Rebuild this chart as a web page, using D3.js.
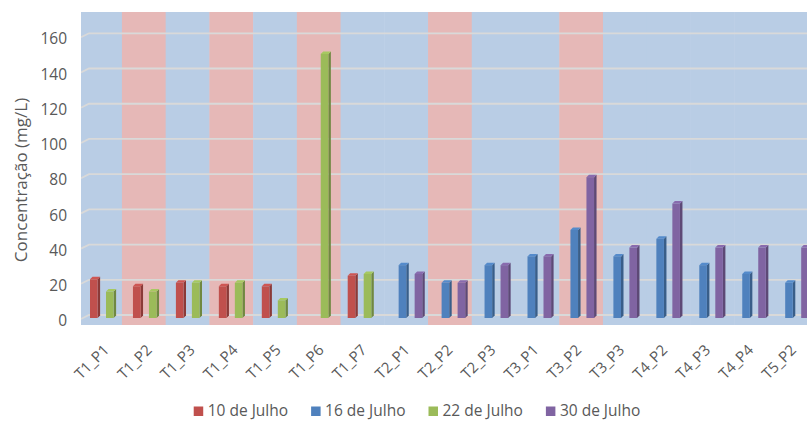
<!DOCTYPE html>
<html>
<head>
<meta charset="utf-8">
<script src="https://cdn.jsdelivr.net/npm/d3@7"></script>
<style>
  body { margin: 0; background: #ffffff; }
  svg { display: block; }
  text { font-family: "Open Sans", sans-serif; fill: #595959; }
</style>
</head>
<body>
<svg id="chart" width="807" height="421"></svg>
<script>
// Sampling points along the x axis
const categories = ["T1_P1", "T1_P2", "T1_P3", "T1_P4", "T1_P5", "T1_P6", "T1_P7",
  "T2_P1", "T2_P2", "T2_P3", "T3_P1", "T3_P2", "T3_P3", "T4_P2", "T4_P3", "T4_P4", "T5_P2"];

// Concentration (mg/L) per sampling date; null = not sampled
const jul10 = [22, 18, 20, 18, 18, null, 24, null, null, null, null, null, null, null, null, null, null];
const jul16 = [null, null, null, null, null, null, null, 30, 20, 30, 35, 50, 35, 45, 30, 25, 20];
const jul22 = [15, 15, 20, 20, 10, 150, 25, null, null, null, null, null, null, null, null, null, null];
const jul30 = [null, null, null, null, null, null, null, 25, 20, 30, 35, 80, 40, 65, 40, 40, 40];

const seriesNames = ["10 de Julho", "16 de Julho", "22 de Julho", "30 de Julho"];
const seriesColors = ["#C0504D", "#4F81BD", "#9BBB59", "#8064A2"];

// Points shaded with the pink backdrop
const highlighted = ["T1_P2", "T1_P4", "T1_P6", "T2_P2", "T3_P2"];

const yTicks = [0, 20, 40, 60, 80, 100, 120, 140, 160];
const yTitle = "Concentração (mg/L)";

const series = [jul10, jul16, jul22, jul30].map((vals, k) => ({
  name: seriesNames[k], color: seriesColors[k], values: vals
}));

const svg = d3.select("#chart");

// plot frame
const plot = { left: 81, right: 807, top: 12, bottom: 325 };
const depth = { floorDx: 8, floorDy: 3, barD: 2.5 };

// back-wall value scale; bar fronts sit slightly lower (3D floor)
const yBack = d3.scaleLinear().domain([0, 160]).range([315, 33.3]);
const yFront = v => yBack(v) + depth.floorDy;

// category scale for the columns
const x = d3.scaleBand().domain(categories).range([84.5, 84.5 + 17 * 42.95]);
const xSlot = d3.scaleBand().domain(d3.range(series.length)).range([5.5, 37.5]);

// category scale for the coloured backdrop strips
const xBg = d3.scaleBand().domain(categories).range([78.2, 78.2 + 17 * 43.73]);

svg.append("defs").append("clipPath").attr("id", "plotClip")
  .append("rect")
  .attr("x", plot.left).attr("y", plot.top)
  .attr("width", plot.right - plot.left).attr("height", plot.bottom - plot.top);

const area = svg.append("g").attr("clip-path", "url(#plotClip)");

// backdrop strips
area.append("g").selectAll("rect")
  .data(categories)
  .join("rect")
  .attr("x", d => xBg(d))
  .attr("y", plot.top)
  .attr("width", xBg.bandwidth() + 0.5)
  .attr("height", plot.bottom - plot.top)
  .attr("fill", d => highlighted.includes(d) ? "#E6B8B7" : "#B9CDE5");

// gridlines on the back wall with a short slanted floor edge
const grid = area.append("g")
  .attr("fill", "none")
  .attr("stroke", "#D9D9D9")
  .attr("stroke-width", 1.8);
grid.selectAll("path")
  .data(yTicks)
  .join("path")
  .attr("d", v => {
    const yb = yBack(v);
    return `M${plot.left},${yb + depth.floorDy + 1}L${plot.left + depth.floorDx},${yb}L${plot.right},${yb}`;
  });

// 3D columns
const bars = area.append("g");
series.forEach((s, k) => {
  const front = d3.color(s.color);
  const side = d3.color(s.color).darker(0.9);
  const top = d3.color(s.color).brighter(0.2);
  const w = xSlot.bandwidth() - 0.4;
  const d = depth.barD;
  const pts = categories.map((c, i) => ({ c, v: s.values[i] })).filter(p => p.v != null);
  const g = bars.append("g");
  pts.forEach(p => {
    const x0 = x(p.c) + xSlot(k);
    const y0 = yFront(0), y1 = yFront(p.v);
    g.append("polygon")
      .attr("points", [[x0 + w, y1], [x0 + w + d, y1 - d], [x0 + w + d, y0 - d], [x0 + w, y0]].join(" "))
      .attr("fill", side);
    g.append("polygon")
      .attr("points", [[x0, y1], [x0 + d, y1 - d], [x0 + w + d, y1 - d], [x0 + w, y1]].join(" "))
      .attr("fill", top);
    g.append("rect")
      .attr("x", x0).attr("y", y1)
      .attr("width", w).attr("height", y0 - y1)
      .attr("fill", front);
  });
});

// y axis tick labels
svg.append("g").selectAll("text")
  .data(yTicks)
  .join("text")
  .attr("x", 67)
  .attr("y", v => yFront(v) + 4)
  .attr("text-anchor", "end")
  .attr("dominant-baseline", "middle")
  .style("font-size", "15.5px")
  .text(d => d);

// y axis title
svg.append("text")
  .attr("transform", "translate(22,180) rotate(-90)")
  .attr("text-anchor", "middle")
  .attr("dominant-baseline", "middle")
  .style("font-size", "17px")
  .text(yTitle);

// x axis category labels, rotated
svg.append("g").selectAll("text")
  .data(categories)
  .join("text")
  .attr("transform", d => `translate(${x(d) + x.bandwidth() / 2 + 4},351) rotate(-45)`)
  .attr("text-anchor", "end")
  .style("font-size", "15px")
  .text(d => d);

// legend
const legend = svg.append("g");
const items = legend.selectAll("g")
  .data(series)
  .join("g");
items.append("rect")
  .attr("width", 9.5).attr("height", 9.5)
  .attr("y", 406.5)
  .attr("fill", d => d.color);
items.append("text")
  .attr("x", 14)
  .attr("y", 411.5)
  .attr("dominant-baseline", "middle")
  .style("font-size", "15.5px")
  .text(d => d.name);
let cursor = 0;
const gap = 23;
const widths = [];
items.each(function () {
  const tw = d3.select(this).select("text").node().getComputedTextLength();
  widths.push(14 + tw);
});
const total = d3.sum(widths) + gap * (widths.length - 1);
const startX = 417 - total / 2;
items.attr("transform", (d, i) => {
  const tx = startX + cursor;
  cursor += widths[i] + gap;
  return `translate(${tx},0)`;
});
</script>
</body>
</html>
